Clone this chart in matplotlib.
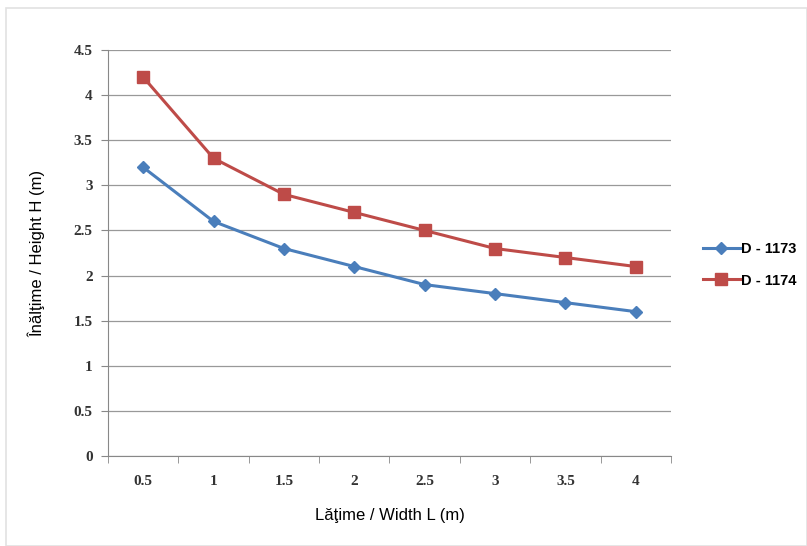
import matplotlib.pyplot as plt
from matplotlib.patches import Rectangle

widths = ['0.5', '1', '1.5', '2', '2.5', '3', '3.5', '4']
d1173 = [3.2, 2.6, 2.3, 2.1, 1.9, 1.8, 1.7, 1.6]
d1174 = [4.2, 3.3, 2.9, 2.7, 2.5, 2.3, 2.2, 2.1]
yticks = [0, 0.5, 1, 1.5, 2, 2.5, 3, 3.5, 4, 4.5]
ylabels = ['0', '0.5', '1', '1.5', '2', '2.5', '3', '3.5', '4', '4.5']

fig = plt.figure(figsize=(8.07, 5.46), dpi=100)
fig.patches.append(Rectangle((0.008, 0.0), 0.992, 0.985, transform=fig.transFigure,
                             fill=False, edgecolor='#e2e2e2', linewidth=1.2))
ax = fig.add_axes([0.1338, 0.1648, 0.6977, 0.7436])

x = list(range(len(widths)))
ax.plot(x, d1173, color='#4A7EBB', linewidth=2.2, marker='D', markersize=6,
        label='D - 1173')
ax.plot(x, d1174, color='#BE4B48', linewidth=2.2, marker='s', markersize=8,
        label='D - 1174')

ax.set_xlim(-0.5, len(widths) - 0.5)
ax.set_ylim(0, 4.5)
ax.set_yticks(yticks)
ax.set_yticklabels(ylabels, fontfamily='Liberation Serif', fontweight='bold',
                   fontsize=11, color='#333333')
ax.set_xticks(x)
ax.set_xticklabels(widths, fontfamily='Liberation Serif', fontweight='bold',
                   fontsize=11, color='#333333')
ax.set_xticks([i - 0.5 for i in range(len(widths) + 1)], minor=True)
ax.tick_params(axis='x', which='major', length=0, pad=14)
ax.tick_params(axis='x', which='minor', length=5, color='#888888')
ax.tick_params(axis='y', length=5, color='#888888', pad=6)

ax.grid(axis='y', color='#999999', linewidth=0.9)
ax.set_axisbelow(True)
for side in ['top', 'right']:
    ax.spines[side].set_visible(False)
ax.spines['left'].set_color('#888888')
ax.spines['bottom'].set_color('#888888')

ax.set_xlabel('Lăţime / Width L (m)', fontfamily='Liberation Sans', fontsize=12,
              labelpad=14)
ax.set_ylabel('Înălţime / Height H (m)', fontfamily='Liberation Sans', fontsize=12,
              labelpad=20)

fig.legend(loc='center left', bbox_to_anchor=(0.855, 0.515), frameon=False,
           prop={'family': 'Liberation Sans', 'weight': 'bold', 'size': 10.5},
           handlelength=2.5, handletextpad=0.1, labelspacing=1.2)

plt.savefig('out.png', dpi=100)
